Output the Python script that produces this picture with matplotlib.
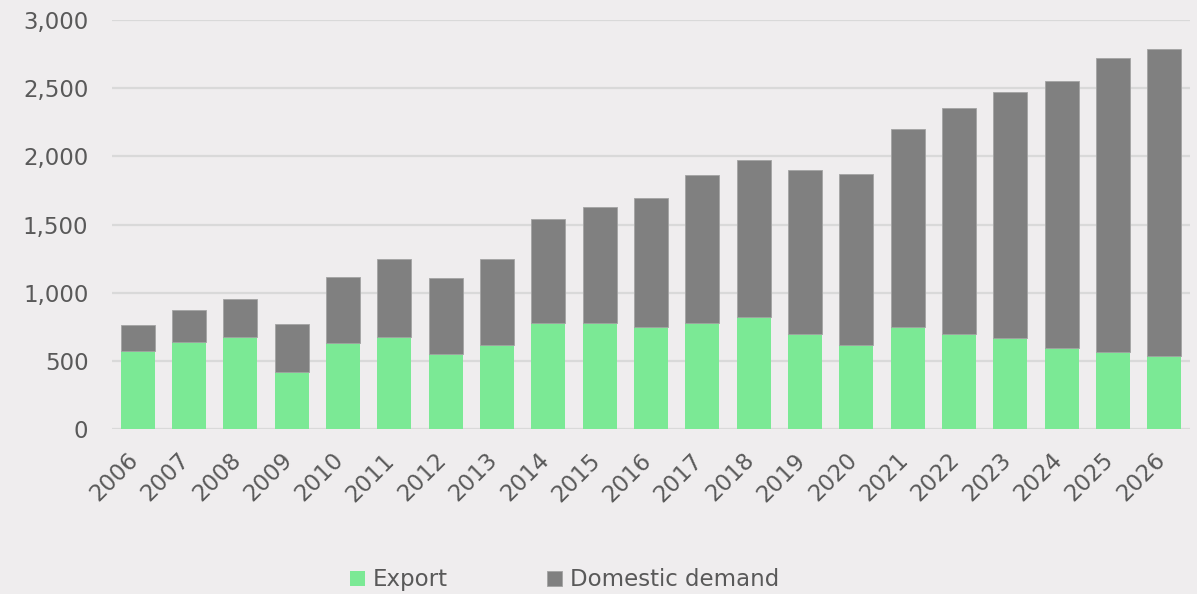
import numpy as np
import matplotlib.pyplot as plt
import matplotlib.transforms as mtransforms
from matplotlib.ticker import FuncFormatter

years = [str(y) for y in range(2006, 2027)]
export = [570, 639, 678, 418, 629, 678, 548, 617, 778, 778, 749,
          778, 820, 700, 617, 749, 700, 668, 597, 568, 536]
total = [761, 876, 957, 768, 1118, 1248, 1108, 1248, 1537, 1627, 1698,
         1860, 1970, 1899, 1869, 2200, 2351, 2469, 2550, 2718, 2789]
domestic = [t - e for t, e in zip(total, export)]

bg = '#efedee'
green = '#7be995'
grey = '#808080'
txt = '#595959'
fs = 16.5

plt.rcParams['font.family'] = ['DejaVu Sans']
plt.rcParams['font.size'] = fs

fig = plt.figure(figsize=(11.97, 5.94), dpi=100, facecolor=bg)
ax = fig.add_axes([0.0936, 0.2778, 0.9006, 0.6885], facecolor=bg)

x = np.arange(len(years))
ax.bar(x, export, width=0.66, color=green, label='Export', zorder=3)
ax.bar(x, domestic, width=0.66, bottom=export, color=grey,
       edgecolor='#a3a3a3', linewidth=0.6, label='Domestic demand', zorder=3)

ax.set_xlim(-0.5, 20.5)
ax.set_ylim(0, 3000)
ax.set_yticks(np.arange(0, 3001, 500))
ax.yaxis.set_major_formatter(FuncFormatter(lambda v, p: f'{int(v):,}'))
ax.grid(axis='y', color='#d9d9d9', linewidth=1.6, zorder=0)
ax.tick_params(axis='y', length=0, pad=17, colors=txt, labelsize=fs)
ax.tick_params(axis='x', length=0, pad=20, colors=txt, labelsize=fs)
for s in ax.spines.values():
    s.set_visible(False)

ax.set_xticks(x)
ax.set_xticklabels(years)
shift = mtransforms.ScaledTranslation(-3 / 100, 0, fig.dpi_scale_trans)
for lab in ax.get_xticklabels():
    lab.set_rotation(45)
    lab.set_ha('right')
    lab.set_va('center')
    lab.set_rotation_mode('anchor')
    lab.set_transform(lab.get_transform() + shift)

leg = fig.legend(loc='center', bbox_to_anchor=(0.4716, 0.024), ncol=2,
                 frameon=False, handlelength=0.65, handleheight=0.65,
                 handletextpad=0.35, columnspacing=4.3, borderpad=0,
                 fontsize=fs)
for t in leg.get_texts():
    t.set_color(txt)

fig.savefig('out.png', dpi=100, facecolor=bg)
